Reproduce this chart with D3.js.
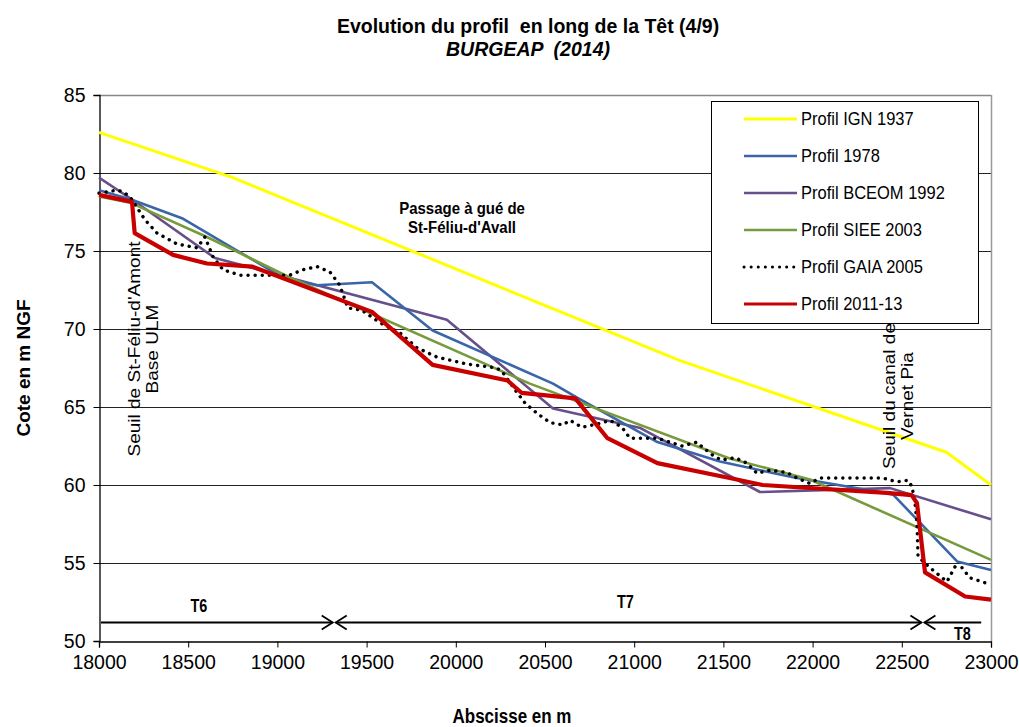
<!DOCTYPE html>
<html><head><meta charset="utf-8">
<script src="https://cdn.jsdelivr.net/npm/d3@7/dist/d3.min.js"></script>
<style>
html,body{margin:0;padding:0;background:#fff;}
svg text{font-family:"Liberation Sans",Arial,sans-serif;}
</style></head>
<body><svg id="c" width="1019" height="727"></svg>
<script>
// ---------- data ----------
const xTicks = [18000,18500,19000,19500,20000,20500,21000,21500,22000,22500,23000];
const yTicks = [50,55,60,65,70,75,80,85];

const ignX = [18000,18750,21250,22750,23000];
const ignY = [82.6,79.7,68.0,62.1,60.0];

const p1978X = [18000,18180,18465,19030,19220,19530,19870,20545,20680,21130,21480,21890,22450,22810,23000];
const p1978Y = [78.9,78.3,77.1,73.3,72.8,73.0,69.9,66.5,65.6,62.75,61.5,60.5,59.4,55.1,54.55];

const bceomX = [18000,18185,18650,19950,20545,21035,21705,22435,23000];
const bceomY = [79.7,78.3,74.55,70.6,64.9,63.65,59.55,59.8,57.8];

const sieeX = [18000,18175,18605,19070,20415,21535,21985,23000];
const sieeY = [78.5,78.1,75.9,73.3,66.5,61.7,60.35,55.2];

const gaiaX = [18000,18100,18135,18175,18215,18258,18325,18437,18550,18594,18640,18695,18790,19070,19143,19222,19295,19350,19395,19474,19575,19687,19782,19894,20063,20231,20264,20332,20388,20455,20528,20601,20640,20707,20808,20864,20931,20976,21128,21200,21268,21352,21385,21453,21492,21565,21632,21688,21761,21856,21912,21985,22041,22394,22473,22535,22557,22574,22585,22591,22658,22753,22798,22837,22882,22949,23000];
const gaiaY = [78.7,78.9,78.8,78.45,77.75,77.0,76.15,75.45,75.2,75.9,74.6,73.8,73.45,73.45,73.8,74.0,73.65,72.8,71.35,71.2,70.4,69.75,68.8,68.2,67.75,67.5,67.2,66.1,65.25,64.6,64.0,63.85,64.15,63.7,63.95,64.15,63.7,63.0,63.0,62.75,62.5,62.75,62.4,61.8,61.6,61.75,61.4,60.75,60.95,60.8,60.45,60.1,60.45,60.45,60.2,60.3,59.9,58.85,57.6,55.4,54.7,53.8,54.75,54.7,54.05,53.8,53.6];

const p2011X = [18000,18185,18200,18415,18605,18860,19530,19870,20290,20370,20670,20850,21130,21535,21720,22415,22555,22585,22630,22855,23000];
const p2011Y = [78.6,78.15,76.15,74.75,74.2,74.0,71.1,67.7,66.7,65.9,65.55,63.0,61.4,60.45,60.0,59.5,59.35,58.85,54.4,52.85,52.65];

const seriesNames = ["Profil IGN 1937","Profil 1978","Profil BCEOM 1992","Profil SIEE 2003","Profil GAIA 2005","Profil 2011-13"];

const sectionNames = ["T6","T7","T8"];
const sectionStart = [18000,19310,22610];
const sectionEnd = [19310,22610,22945];
const sectionLevel = 51.22;

// ---------- layout ----------
const W = 1019, H = 727;
const m = {l:99, r:991, t:95, b:641};
const svg = d3.select("#c");
const x = d3.scaleLinear().domain([18000,23000]).range([m.l, m.r]);
const y = d3.scaleLinear().domain([50,85]).range([m.b, m.t]);

// gridlines
svg.append("g").selectAll("line").data(yTicks.filter(v=>v>50)).join("line")
  .attr("x1", m.l).attr("x2", m.r)
  .attr("y1", d=>Math.round(y(d))+0.5).attr("y2", d=>Math.round(y(d))+0.5)
  .attr("stroke", d=> (d===85? "#888":"#222")).attr("stroke-width", d=> d===85?1.6:1);
// right border
svg.append("line").attr("x1", m.r+0.5).attr("x2", m.r+0.5).attr("y1", m.t).attr("y2", m.b)
  .attr("stroke","#999").attr("stroke-width",1.5);

// axes
const xAxis = svg.append("g").attr("transform",`translate(0,${m.b+0.5})`)
  .call(d3.axisBottom(x).tickValues(xTicks).tickFormat(d3.format("d")).tickSizeOuter(0).tickSize(6));
const yAxis = svg.append("g").attr("transform",`translate(${m.l+0.5},0)`)
  .call(d3.axisLeft(y).tickValues(yTicks).tickSizeOuter(0).tickSize(6));
[xAxis,yAxis].forEach(a=>{
  a.selectAll("path").attr("stroke","#000").attr("stroke-width",1.3);
  a.selectAll("line").attr("stroke","#000");
  a.selectAll("text").attr("font-size",19.5).attr("fill","#000")
   .style("font-family","'Liberation Sans',Arial,sans-serif");
});
xAxis.selectAll("text").attr("dy","0.95em").attr("y",9);
yAxis.selectAll("text").attr("x",-14);

// lines
const line = d3.line().x(d=>x(d[0])).y(d=>y(d[1]));
const zipS = (a,b)=>a.map((v,i)=>[v,b[i]]);
const series = [
  {name:seriesNames[0], pts:zipS(ignX,ignY), color:"#FFFF00", w:3},
  {name:seriesNames[1], pts:zipS(p1978X,p1978Y), color:"#3A66A8", w:2.6},
  {name:seriesNames[2], pts:zipS(bceomX,bceomY), color:"#664F8B", w:2.6},
  {name:seriesNames[3], pts:zipS(sieeX,sieeY), color:"#779A3D", w:2.6},
  {name:seriesNames[4], pts:zipS(gaiaX,gaiaY), color:"#000000", w:3.4, dash:"0.1 7"},
  {name:seriesNames[5], pts:zipS(p2011X,p2011Y), color:"#C80000", w:4.2}
];
const drawOrder = [0,2,1,3,4,5];
drawOrder.forEach(i=>{
  const s = series[i];
  svg.append("path").attr("d", line(s.pts)).attr("fill","none")
    .attr("stroke", s.color).attr("stroke-width", s.w)
    .attr("stroke-linejoin","round")
    .attr("stroke-linecap", s.dash?"round":"butt")
    .attr("stroke-dasharray", s.dash||null);
});

// section arrows
const ay = Math.round(y(sectionLevel))+0.5;
const secG = svg.append("g");
sectionNames.forEach((n,i)=>{
  const x0 = x(sectionStart[i]) + (i>0?3:2), x1 = x(sectionEnd[i]);
  secG.append("line").attr("x1",x0).attr("x2",x1).attr("y1",ay).attr("y2",ay)
    .attr("stroke","#000").attr("stroke-width",2);
  if (i<2) secG.append("path").attr("d",`M${x1-11},${ay-7}L${x1},${ay}L${x1-11},${ay+7}`)
    .attr("fill","none").attr("stroke","#000").attr("stroke-width",1.8);
  if (i>0) secG.append("path").attr("d",`M${x0+11},${ay-7}L${x0},${ay}L${x0+11},${ay+7}`)
    .attr("fill","none").attr("stroke","#000").attr("stroke-width",1.8);
});
const labX = [18560, 20950, 22840];
const labDy = [-11, -15, 4];
sectionNames.forEach((n,i)=>{
  const lx = x(labX[i]), ly = ay+labDy[i];
  svg.append("text").attr("text-anchor","middle")
    .attr("dominant-baseline", i===2?"hanging":"auto")
    .attr("font-size",16).attr("font-weight","bold").text(n)
    .attr("transform",`translate(${lx},${ly}) scale(0.9,1.15)`);
});

// annotations
function ht(txt, cx, cy, size, weight, style, sx, sy){
  return svg.append("text").attr("text-anchor","middle")
    .attr("transform",`translate(${cx},${cy}) scale(${sx||1},${sy||1})`)
    .attr("font-size",size).attr("font-weight",weight||"normal").attr("font-style",style||"normal")
    .style("white-space","pre").text(txt);
}
ht("Passage à gué de", x(20035), 214, 15, "bold", null, 1, 1.1);
ht("St-Féliu-d'Avall", x(20035), 233, 15, "bold", null, 1, 1.1);

function vt(txt, bx, cy, size){
  svg.append("text").attr("transform",`translate(${bx},${cy}) rotate(-90) scale(1.12,1)`)
    .attr("text-anchor","middle").attr("font-size",size).text(txt);
}
vt("Seuil de St-Féliu-d'Amont", 140, 349, 17);
vt("Base ULM", 158, 349, 17);
vt("Seuil du canal de", 895, 396, 17);
vt("Vernet Pia", 913, 396, 17);

// titles
ht("Evolution du profil  en long de la Têt (4/9)", 528, 33, 19.5, "bold", null, 1, 1.05);
ht("BURGEAP  (2014)", 528, 56, 19.5, "bold", "italic", 1, 1.05);
ht("Abscisse en m", 512, 723, 17, "bold", null, 1, 1.15);
svg.append("text").attr("transform",`translate(30,368) rotate(-90) scale(1,0.95)`).attr("text-anchor","middle")
  .attr("font-size",19).attr("font-weight","bold").text("Cote en m NGF");

// legend
const lg = svg.append("g");
lg.append("rect").attr("x",711.5).attr("y",101.5).attr("width",267).attr("height",222)
  .attr("fill","#fff").attr("stroke","#000").attr("stroke-width",1);
series.forEach((s,i)=>{
  const ly = 119 + i*37;
  lg.append("line").attr("x1",744).attr("x2",797).attr("y1",ly).attr("y2",ly)
    .attr("stroke",s.color).attr("stroke-width",s.dash?3:Math.min(s.w,3))
    .attr("stroke-linecap",s.dash?"round":"butt").attr("stroke-dasharray",s.dash?"0.1 7":null);
  lg.append("text").attr("transform",`translate(801,${ly+6}) scale(1,1.12)`)
    .attr("font-size",16.5).text(s.name);
});
</script></body></html>
